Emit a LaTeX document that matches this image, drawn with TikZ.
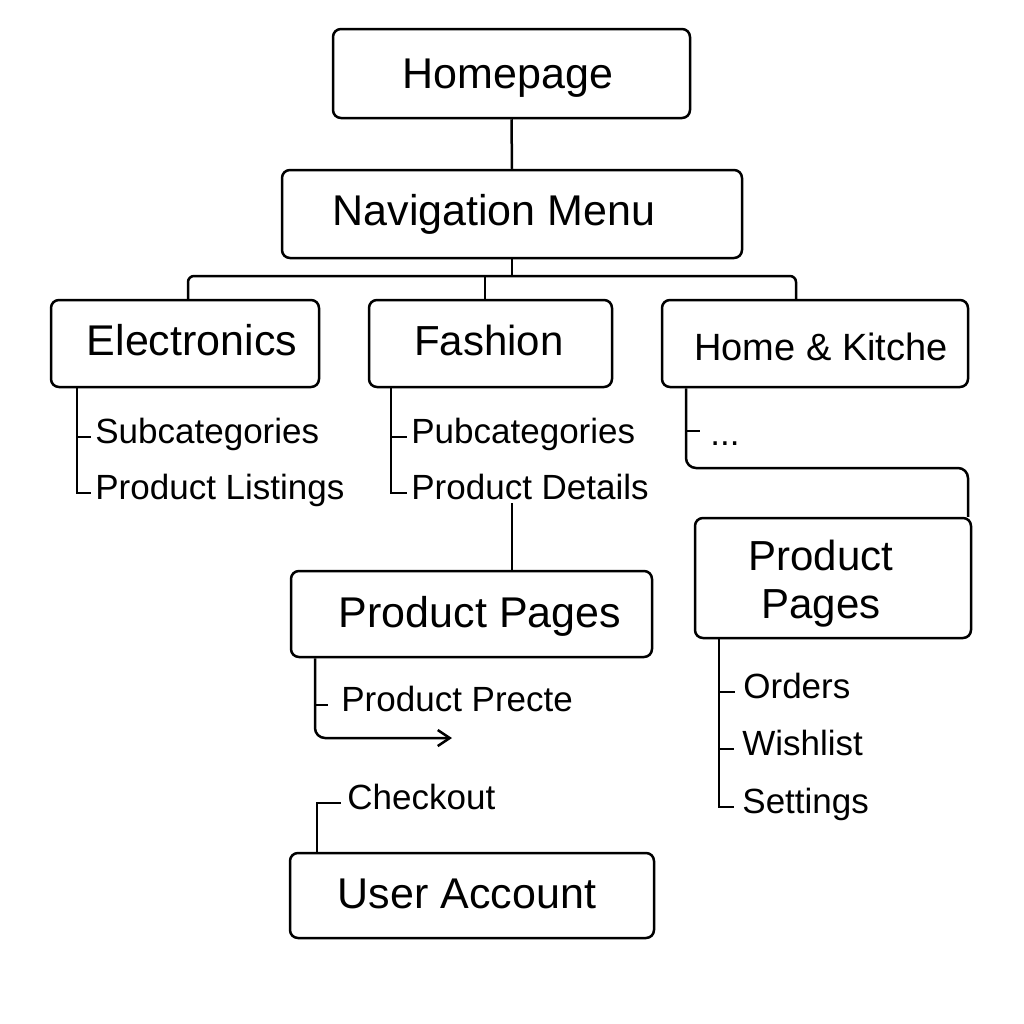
\documentclass[tikz,border=0pt]{standalone}
\usepackage{fontspec}
\setmainfont{Liberation Sans}
\usetikzlibrary{arrows.meta}
\begin{document}
\begin{tikzpicture}[x=0.5pt,y=-0.5pt,
  box/.style={draw, line width=1.25pt, rounded corners=4pt, inner sep=0pt},
  conn/.style={line width=1.25pt},
  big/.style={font=\fontsize{21.5}{24}\selectfont, inner sep=0pt, text height=1.5ex, text depth=0.25ex, yshift=-3.5pt},
  sub/.style={font=\fontsize{17.5}{20}\selectfont, inner sep=0pt, anchor=west, text height=1.5ex, text depth=0.25ex, yshift=-3pt}]
\useasboundingbox (0,0) rectangle (1024,1024);
% boxes
\node[box, minimum width=178.5pt, minimum height=44.5pt] (home) at (511.5,73.5) {};
\node[box, minimum width=230pt, minimum height=44pt] (nav) at (512,214) {};
\node[box, minimum width=134pt, minimum height=43.5pt] (elec) at (185,343.5) {};
\node[box, minimum width=121.5pt, minimum height=43.5pt] (fash) at (490.5,343.5) {};
\node[box, minimum width=153pt, minimum height=43.5pt] (hk) at (815,343.5) {};
\node[box, minimum width=180.5pt, minimum height=43pt] (pp) at (471.5,614) {};
\node[box, minimum width=138pt, minimum height=60pt] (ppr) at (833,578) {};
\node[box, minimum width=182pt, minimum height=42.5pt] (ua) at (472,895.5) {};
% box labels
\node[big] (homeT) at (508,75) {Homepage};
\node[big] (navT) at (494,212) {Navigation Menu};
\node[big] (elecT) at (192,342) {Electronics};
\node[big, font=\fontsize{21}{24}\selectfont] (fashT) at (489,342) {Fashion};
\node[sub, font=\fontsize{19}{22}\selectfont] (hkT) at (694,348) {Home \& Kitche};
\node[big] (ppT) at (480,614) {Product Pages};
\node[inner sep=0pt, align=center, font=\fontsize{21}{24}\selectfont, yshift=-2pt] (pprT) at (821,580) {Product\\Pages};
\node[big] (uaT) at (467,895) {User Account};
% sub labels
\node[sub] (es1) at (95,431) {Subcategories};
\node[sub] (es2) at (95,487) {Product Listings};
\node[sub] (fs1) at (411,431) {Pubcategories};
\node[sub] (fs2) at (411,487) {Product Details};
\node[sub] (hs1) at (710,433) {...};
\node[sub] (ps1) at (341,699) {Product Precte};
\node[sub] (chk) at (347,797) {Checkout};
\node[sub] (rs1) at (743,686) {Orders};
\node[sub] (rs2) at (742,743) {Wishlist};
\node[sub] (rs3) at (742,801) {Settings};
% coordinates
\coordinate (busL) at (188,276);
\coordinate (busR) at (796,276);
\coordinate (arrEnd) at (452,738);
% connectors
\draw[conn] (home.south) -- (nav.north);
\draw[conn] (nav.south) -- (nav.south |- busL);
\draw[conn, rounded corners=3pt] (busL |- elec.north) -- (busL) -- (busR) -- (busR |- hk.north);
\draw[conn] (485,276) -- (485,0 |- fash.north);
% electronics
\draw[conn] (77,0 |- elec.south) |- ([xshift=-2pt]es2.west);
\draw[conn] (77,0 |- es1.west) -- ([xshift=-2pt]es1.west);
% fashion
\draw[conn] (391,0 |- fash.south) |- ([xshift=-2pt]fs2.west);
\draw[conn] (391,0 |- fs1.west) -- ([xshift=-2pt]fs1.west);
\draw[conn] (512,503) -- (512,0 |- pp.north);
% product pages
\draw[conn, rounded corners=5pt, -{Straight Barb[length=6pt,width=8pt]}] (315,0 |- pp.south) |- (arrEnd);
\draw[conn] (315,0 |- ps1.west) -- (328,0 |- ps1.west);
% checkout
\draw[conn] (317,0 |- ua.north) |- ([xshift=-3pt]chk.west);
% home & kitchen
\draw[conn, rounded corners=5pt] (686,0 |- hk.south) -- (686,468) -- (968,468) -- (968,0 |- ppr.north);
\draw[conn] (686,431) -- (700,431);
% right product pages
\draw[conn] (719,0 |- ppr.south) |- ([xshift=-4pt]rs3.west);
\draw[conn] (719,0 |- rs1.west) -- ([xshift=-4pt]rs1.west);
\draw[conn] (719,0 |- rs2.west) -- ([xshift=-4pt]rs2.west);
\end{tikzpicture}
\end{document}
